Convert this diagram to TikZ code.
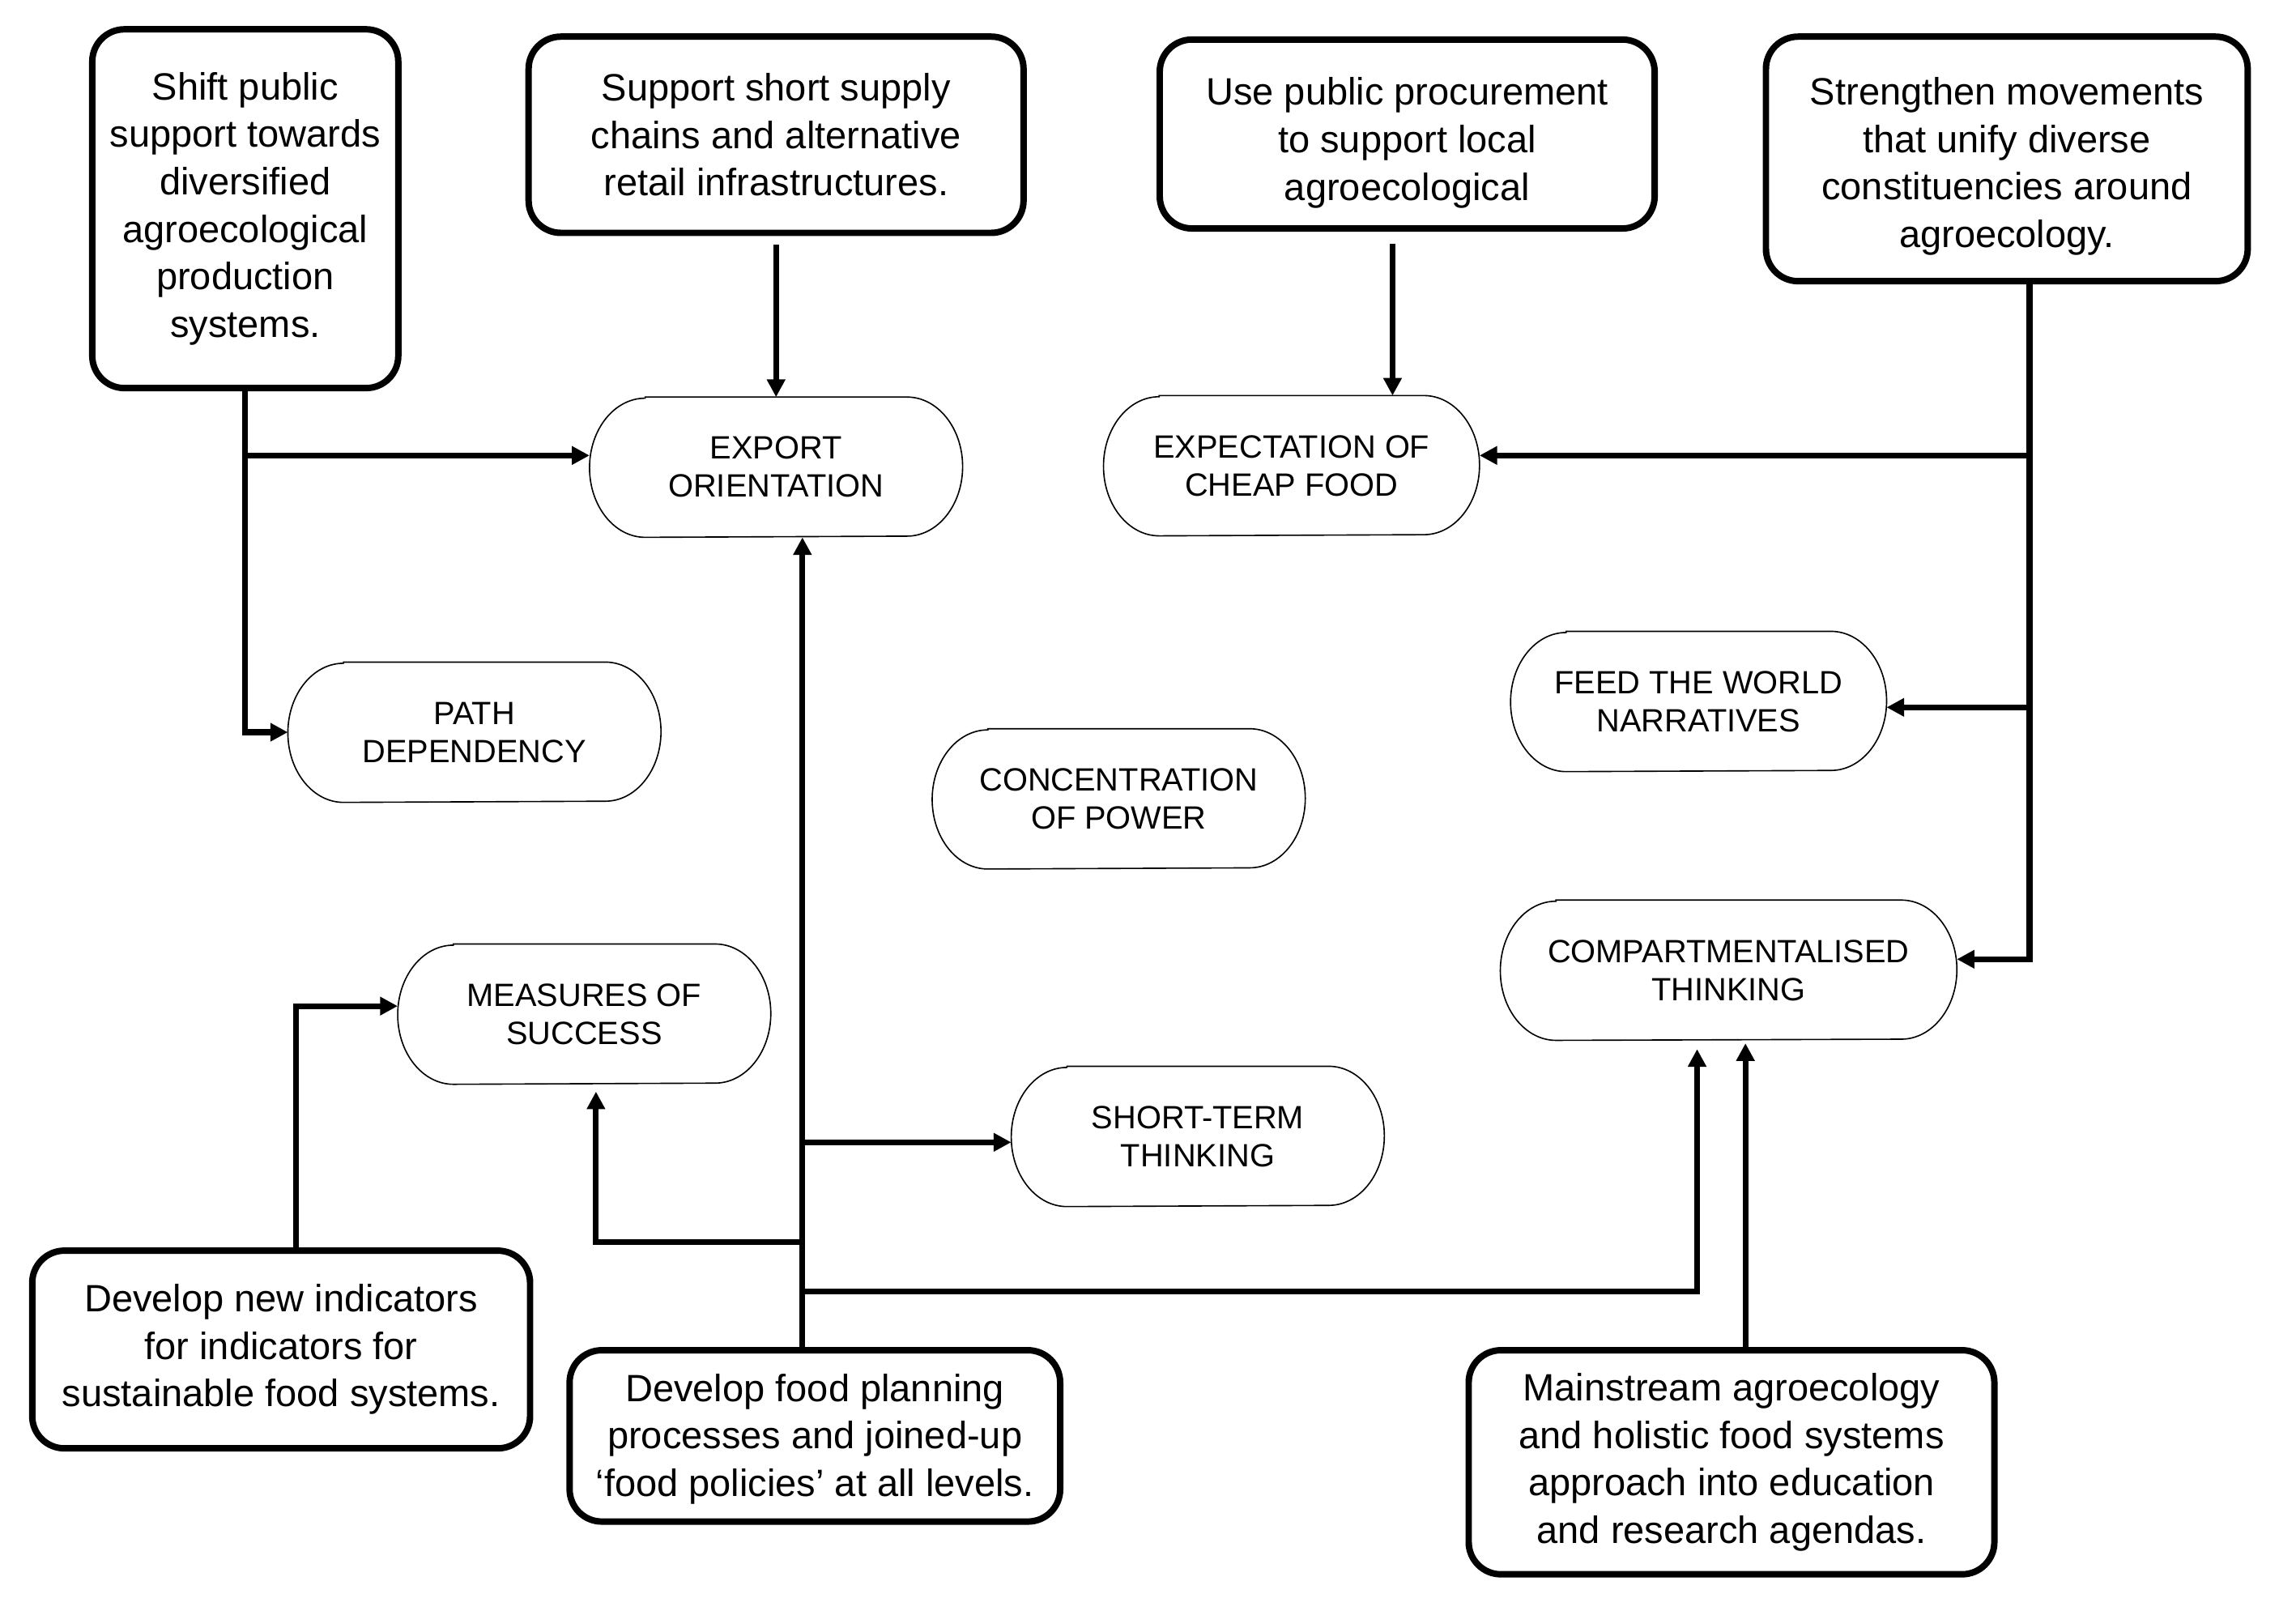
\documentclass[tikz,border=0pt]{standalone}
\usepackage{fontspec}
\setmainfont{Liberation Sans}
\usetikzlibrary{arrows.meta}
\newcommand\capsuleoutline[1]{%
  \draw[line width=0.45pt] ([xshift=19pt]#1.north west) -- ([xshift=-19pt]#1.north east)
    arc[start angle=90,end angle=-90,x radius=19pt,y radius=23.75pt]
    -- ([xshift=19pt]#1.south west)
    arc[start angle=270,end angle=90,x radius=19pt,y radius=23.75pt] -- cycle;}
\begin{document}
\begin{tikzpicture}[x=0.5pt,y=0.5pt,
  action/.style={draw, line width=2.2pt, rounded corners=11pt, align=center,
    font=\fontsize{13}{16.2}\selectfont, inner sep=0pt},
  actiontext/.style={align=center, font=\fontsize{13}{16.2}\selectfont, inner sep=0pt},
  issue/.style={align=center, font=\fontsize{11}{13}\selectfont, inner sep=0pt,
    minimum width=127pt, minimum height=47.5pt},
  conn/.style={line width=2pt, -{Triangle[length=6pt,width=6pt]}}]
\fill[white] (0,0) rectangle (1568,-1100);
\useasboundingbox (0,0) rectangle (1568,-1100);

% action boxes
\node[action, minimum width=104.5pt, minimum height=122.5pt] (shift) at (167.5,-142.5)
  {Shift public\\support towards\\diversified\\agroecological\\production\\systems.};
\node[action, minimum width=169pt, minimum height=67pt] (support) at (530,-92)
  {Support short supply\\chains and alternative\\retail infrastructures.};
\node[action, minimum width=169pt, minimum height=64.5pt] (procure) at (961,-91.5) {};
\node[actiontext] (procuretext) at (961,-97.5)
  {Use public procurement\\to support local\\agroecological};
\node[action, minimum width=164.5pt, minimum height=83.5pt] (movements) at (1370.5,-108.5) {};
\node[actiontext] (movementstext) at (1370.5,-113.5)
  {Strengthen movements\\that unify diverse\\constituencies around\\agroecology.};
\node[action, minimum width=170pt, minimum height=67.5pt] (indicators) at (192,-921.5)
  {Develop new indicators\\for indicators for\\sustainable food systems.};
\node[action, minimum width=167.5pt, minimum height=58.5pt] (planning) at (556.5,-980.5) {};
\node[actiontext] (planningtext) at (556.5,-982.5)
  {Develop food planning\\processes and joined-up\\‘food policies’ at all levels.};
\node[action, minimum width=179.5pt, minimum height=76.5pt] (mainstream) at (1182.5,-998.5)
  {Mainstream agroecology\\and holistic food systems\\approach into education\\and research agendas.};

% issue capsules
\node[issue] (export) at (530,-319) {EXPORT\\ORIENTATION};
\node[issue, minimum width=128pt] (cheap) at (882,-318) {EXPECTATION OF\\CHEAP FOOD};
\node[issue] (path) at (324,-500) {PATH\\DEPENDENCY};
\node[issue] (power) at (764,-545.5) {CONCENTRATION\\OF POWER};
\node[issue, minimum width=128pt] (feed) at (1160,-479) {FEED THE WORLD\\NARRATIVES};
\node[issue] (measures) at (399,-692.5) {MEASURES OF\\SUCCESS};
\node[issue] (short) at (818,-776) {SHORT-TERM\\THINKING};
\node[issue, minimum width=155.5pt] (compart) at (1180.5,-662.5) {COMPARTMENTALISED\\THINKING};
\foreach \n in {export,cheap,path,power,feed,measures,short,compart}{\capsuleoutline{\n}}

% connectors
\coordinate (j1) at (167.5,-311);
\draw[conn] (shift.south) |- (path.west);
\draw[conn] (j1) -- (j1 -| export.west);
\draw[conn, shorten <=3pt] (support.south) -- (export.north);
\coordinate (px) at (951,0);
\draw[conn, shorten <=4pt] (procure.south -| px) -- (cheap.north -| px);

\coordinate (mx) at (1386,0);
\coordinate (m1) at (1386,-311);
\coordinate (m2) at (1386,-483);
\coordinate (m3) at (1386,-655);
\draw[conn] (movements.south -| mx) -- (m3) -- (m3 -| compart.east);
\draw[conn] (m1) -- (m1 -| cheap.east);
\draw[conn] (m2) -- (m2 -| feed.east);

\coordinate (i1) at (202,-687);
\draw[conn] (indicators.north -| i1) -- (i1) -- (i1 -| measures.west);

\coordinate (qx) at (548,0);
\coordinate (q1) at (548,-780);
\coordinate (q2) at (548,-848);
\coordinate (q2b) at (407,-848);
\coordinate (q3) at (548,-882);
\coordinate (q3b) at (1159,-882);
\draw[conn] (planning.north -| qx) -- (export.south -| qx);
\draw[conn] (q1) -- (q1 -| short.west);
\draw[conn, shorten >=2.5pt] (q2) -- (q2b) -- (q2b |- measures.south);
\draw[conn, shorten >=3pt] (q3) -- (q3b) -- (q3b |- compart.south);
\coordinate (rx) at (1192,0);
\draw[conn, shorten >=1pt] (mainstream.north -| rx) -- (compart.south -| rx);
\end{tikzpicture}
\end{document}
